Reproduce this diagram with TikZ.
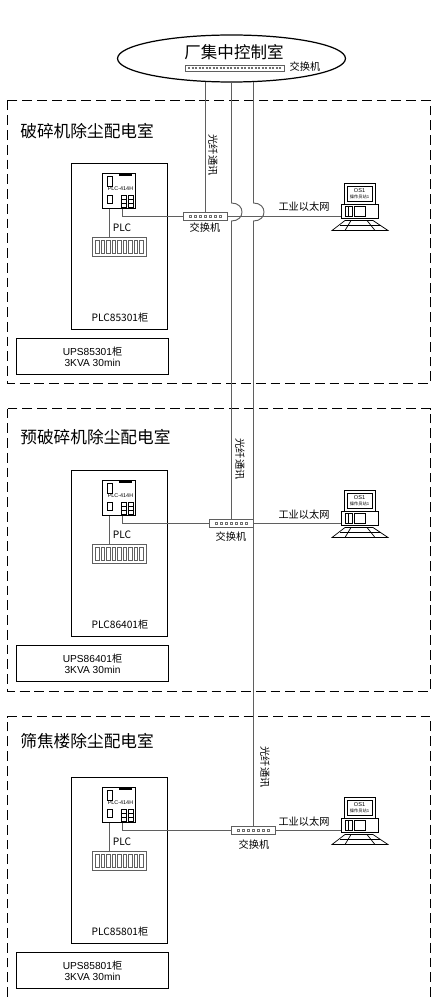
\documentclass[tikz,border=0pt]{standalone}
\usepackage{fontspec}
\setmainfont{Liberation Sans}
\newfontfamily\cjk{Noto Sans CJK SC}
\usepackage{tikz}
\usetikzlibrary{calc,positioning,shapes.geometric}
\definecolor{linegray}{RGB}{95,95,95}
\definecolor{dotgray}{RGB}{110,110,110}

% cabinet with cpu, rack and ups box
\newcommand{\plcgear}[3]{%
  \node[cabbox] (cab#1) at (119.5, 246.5+#2) {};
  \node[cpubox] (cpu#1) at (119, 191+#2) {};
  \node[rackbox] (rack#1) at (119.5, 246.5+#2) {};
  \foreach \i in {0,...,8}
    \draw[thin, linegray] (95.5+\i*5.5, 240.5+#2) rectangle +(3.5, 13);
  \fill (119, 174+#2) rectangle (132, 175.5+#2);
  \draw[thin] (107.5, 176.5+#2) rectangle (112.5, 186.5+#2);
  \draw[thin] (107.5, 195.5+#2) rectangle (112.5, 203.5+#2);
  \draw[thin] (121.5, 195.5+#2) rectangle (126.5, 207.5+#2);
  \draw[thin] (121.5, 199.5+#2) -- (126.5, 199.5+#2) (121.5, 203.5+#2) -- (126.5, 203.5+#2);
  \draw[thin] (128.5, 195.5+#2) rectangle (133.5, 207.5+#2);
  \draw[thin] (128.5, 199.5+#2) -- (133.5, 199.5+#2) (128.5, 203.5+#2) -- (133.5, 203.5+#2);
  \node[font=\fontsize{3.1}{4}\selectfont, inner sep=0pt] (cpulabel#1) at (120.5, 189+#2) {PLC-414H};
  \node[txt] (plclabel#1) at (122, 228+#2) {PLC};
  \node[txt] (cablabel#1) at (120, 318+#2) {PLC#3{\cjk 柜}};
  \node[upsbox] (ups#1) at (92.5, 356.5+#2) {UPS#3{\cjk 柜}\\3KVA 30min};
  \coordinate (cpuport#1) at (122.5, 208.5+#2);
  \coordinate (cpubus#1) at (109.5, 208.5+#2);
  \draw[linegray, line width=0.8pt] (cpubus#1) -- (cpubus#1 |- rack#1.north);
}

% operator station
\newcommand{\ospc}[2]{%
  \node[pcbox] (os#1) at (359.5, 211+#2) {};
  \draw[line width=0.55pt] (344.5, 183.5+#2) rectangle (375.5, 204+#2);
  \draw[line width=0.55pt] (347.5, 186.5+#2) rectangle (372.5, 201.5+#2);
  \draw[thin] (345.5, 206.5+#2) rectangle (352.5, 216.5+#2);
  \draw[thin] (354.5, 206.5+#2) rectangle (365.5, 216.5+#2);
  \draw[thin] (348.5, 206.5+#2) -- (348.5, 216.5+#2);
  \draw[thin] (345, 220.5+#2) -- (373, 220.5+#2) -- (388, 230.5+#2) -- (332, 230.5+#2) -- cycle;
  \draw[thin] (340, 225.5+#2) -- (380, 225.5+#2);
  \draw[thin] (351, 220.5+#2) -- (345, 230.5+#2) (367, 220.5+#2) -- (375, 230.5+#2);
  \node[font=\fontsize{3.2}{3.6}\selectfont, inner sep=0pt] (osname#1) at (359.5, 191+#2) {OS1};
  \node[font=\fontsize{2.4}{3}\selectfont\cjk, inner sep=0pt] (ostext#1) at (359.5, 197+#2) {操作员站1};
}

% small ports in a switch
\newcommand{\swports}[1]{%
  \foreach \i in {-3,...,3}
    \draw[thin, dotgray] ($(#1)+(\i*5-1.2, -1.2)$) rectangle +(2.4, 2.4);
}

\begin{document}
\begin{tikzpicture}[
  x=0.02cm, y=-0.02cm,
  roomline/.style={line width=0.6pt, dash pattern=on 5.6pt off 2.8pt},
  fiber/.style={linegray, line width=0.55pt},
  txt/.style={font=\fontsize{5.8}{6}\selectfont\cjk, inner sep=0pt},
  title/.style={font=\fontsize{9.5}{10}\selectfont\cjk, inner sep=0pt},
  cabbox/.style={draw, line width=0.55pt, minimum width=1.92cm, minimum height=3.32cm, inner sep=0pt},
  cpubox/.style={draw, line width=0.6pt, minimum width=0.66cm, minimum height=0.70cm, inner sep=0pt},
  rackbox/.style={draw=linegray, line width=0.5pt, minimum width=1.08cm, minimum height=0.38cm, inner sep=0pt},
  upsbox/.style={draw, line width=0.55pt, minimum width=3.04cm, minimum height=0.72cm, inner sep=0pt,
    align=center, font=\fontsize{5.8}{6}\selectfont},
  swbox/.style={draw=linegray, fill=white, line width=0.5pt, minimum width=0.88cm, minimum height=0.16cm, inner sep=0pt},
  pcbox/.style={draw, line width=0.55pt, minimum width=0.74cm, minimum height=0.28cm, inner sep=0pt},
]
  \useasboundingbox (0, 0) rectangle (431, 997);

  % central control room
  \node[draw, ellipse, line width=0.7pt, minimum width=4.56cm, minimum height=0.94cm, inner sep=0pt] (ctrl) at (231.5, 58.5) {};
  \node[title, font=\fontsize{9.4}{10}\selectfont\cjk] (ctrltitle) at (234, 52) {厂集中控制室};
  \node[swbox, minimum width=1.98cm, minimum height=0.12cm] (swtop) at (234.5, 68) {};
  \draw[dotgray, line width=0.9pt, dash pattern=on 1.2pt off 0.8pt] (188, 68) -- (281, 68);
  \node[txt] (swtoplabel) at (305, 67) {交换机};

  % dashed rooms
  \draw[roomline] (7.5, 100.5) rectangle (430.5, 383.5);
  \draw[roomline] (7.5, 408.5) rectangle (430.5, 691.5);
  \draw[roomline] (7.5, 997) -- (7.5, 716.5) -- (430.5, 716.5) -- (430.5, 997);
  \node[title, anchor=west] (room1) at (20, 131) {破碎机除尘配电室};
  \node[title, anchor=west] (room2) at (20, 437) {预破碎机除尘配电室};
  \node[title, anchor=west] (room3) at (20, 741) {筛焦楼除尘配电室};

  % equipment
  \plcgear{1}{0}{85301}
  \plcgear{2}{307}{86401}
  \plcgear{3}{614}{85801}
  \ospc{1}{0}
  \ospc{2}{307}
  \ospc{3}{614}

  % switches
  \node[swbox] (sw1) at (205.5, 216.5) {};
  \node[swbox] (sw2) at (231.5, 523.5) {};
  \node[swbox] (sw3) at (253.5, 830.5) {};
  \swports{sw1}
  \swports{sw2}
  \swports{sw3}
  \node[txt] (swlabel1) at (205, 228) {交换机};
  \node[txt] (swlabel2) at (231, 537) {交换机};
  \node[txt] (swlabel3) at (254, 845) {交换机};

  % fiber lines, two of them hop over the first ethernet line
  \draw[fiber] (ctrl.222 -| sw1.north) -- (sw1.north);
  \draw[fiber] (ctrl.south) -- (231.5, 203)
    .. controls (245.5, 203) and (245.5, 221) .. (231.5, 221) -- (sw2.north);
  \draw[fiber] (ctrl.313 -| sw3.north) -- (253.5, 203)
    .. controls (267.5, 203) and (267.5, 221) .. (253.5, 221) -- (sw3.north);
  \node[txt, rotate=-90] (fiber1) at (213, 155) {光纤通讯};
  \node[txt, rotate=-90] (fiber2) at (240, 459) {光纤通讯};
  \node[txt, rotate=-90] (fiber3) at (265, 767) {光纤通讯};

  % ethernet
  \draw[fiber] (cpuport1) |- (sw1.west);
  \draw[fiber] (cpuport2) |- (sw2.west);
  \draw[fiber] (cpuport3) |- (sw3.west);
  \draw[fiber] (sw1.east) -- (sw1.east -| os1.west);
  \draw[fiber] (sw2.east) -- (sw2.east -| os2.west);
  \draw[fiber] (sw3.east) -- (sw3.east -| os3.west);
  \node[txt] (eth1) at (304, 207) {工业以太网};
  \node[txt] (eth2) at (304, 515) {工业以太网};
  \node[txt] (eth3) at (304, 822) {工业以太网};
\end{tikzpicture}
\end{document}
